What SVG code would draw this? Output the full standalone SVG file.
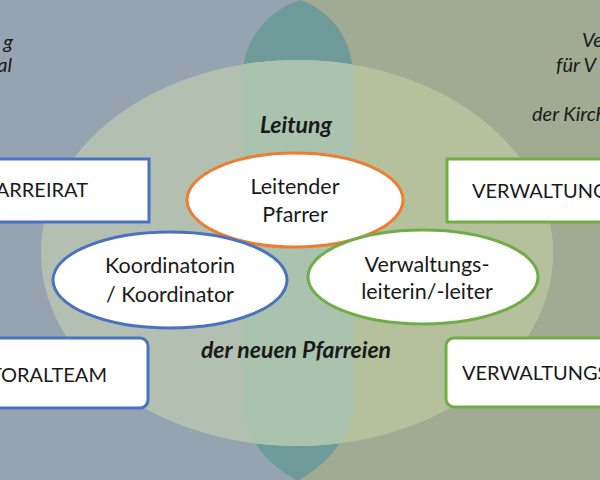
<svg xmlns="http://www.w3.org/2000/svg" width="600" height="480" viewBox="0 0 600 480">
<style>
.t{font-family:Lato,"Open Sans","Liberation Sans",sans-serif;fill:#1a1a1a}
.box{font-size:20px}
.ell{font-size:21.5px;text-anchor:middle}
.hd{font-size:23px;font-style:italic;font-weight:bold;text-anchor:middle}
.side{font-size:20px;font-style:italic}
.nb{fill:#fff;stroke:#4a72c0;stroke-width:3}
.ng{fill:#fff;stroke:#70ad47;stroke-width:3}
</style>
<defs>
<path id="blueShape" d="M-10,-10 L270,-10 C290,-6 296,-3 300,0 C325,8 350,32 353,70 L354,400 C353,430 335,460 296,482 L-10,490 Z"/>
<path id="greenShape" d="M610,-10 L330,-10 C312,-6 304,-3 300,0 C275,8 246,32 243,70 L242,400 C243,430 258,460 300,482 L610,490 Z"/>
<ellipse id="bigEll" cx="297" cy="253" rx="256" ry="193"/>
<clipPath id="cpGreen"><use href="#greenShape"/></clipPath>
<clipPath id="cpEll"><use href="#bigEll"/></clipPath>
</defs>
<g id="background">
<rect width="600" height="480" fill="#ffffff"/>
<use href="#blueShape" fill="#96a4b2"/>
<use href="#greenShape" fill="#a1aa92"/>
<use href="#blueShape" fill="#6e9b9a" clip-path="url(#cpGreen)"/>
<use href="#bigEll" fill="#b3bfb0"/>
<g clip-path="url(#cpEll)">
<use href="#greenShape" fill="#b5c09c"/>
<use href="#blueShape" fill="#a9c3ae" clip-path="url(#cpGreen)"/>
</g>
</g>
<g id="side-texts">
<text class="t side" x="13" y="49" text-anchor="end">g</text>
<text class="t side" x="12" y="72" text-anchor="end">al</text>
<text class="t side" x="582" y="47">Ve</text>
<text class="t side" x="556" y="72">für V</text>
<text class="t side" x="532" y="121">der Kirch</text>
</g>
<g id="labels">
<text class="t hd" x="296" y="133">Leitung</text>
<text class="t hd" x="296" y="358">der neuen Pfarreien</text>
</g>
<g id="connectors"></g>
<g id="pfarreirat">
<rect class="nb" x="-10" y="159" width="159" height="63"/>
<text class="t box" x="88" y="197" text-anchor="end">ARREIRAT</text>
</g>
<g id="pastoralteam">
<rect class="nb" x="-10" y="338" width="158" height="70" rx="8"/>
<text class="t box" x="107" y="382" text-anchor="end">TORALTEAM</text>
</g>
<g id="verwaltungsrat">
<rect class="ng" x="447" y="159" width="170" height="63"/>
<text class="t box" x="472" y="198">VERWALTUNG</text>
</g>
<g id="verwaltungsausschuss">
<rect class="ng" x="446" y="338" width="170" height="69" rx="8"/>
<text class="t box" x="462" y="380">VERWALTUNGS</text>
</g>
<g id="leitender-pfarrer">
<ellipse cx="295" cy="200" rx="108" ry="47" fill="#fff" stroke="#ed7d31" stroke-width="3"/>
<text class="t ell" x="295" y="194">Leitender</text>
<text class="t ell" x="295" y="222">Pfarrer</text>
</g>
<g id="koordinator">
<ellipse cx="170" cy="280" rx="117" ry="48" fill="#fff" stroke="#4a72c0" stroke-width="3"/>
<text class="t ell" x="170" y="273">Koordinatorin</text>
<text class="t ell" x="170" y="302">/ Koordinator</text>
</g>
<g id="verwaltungsleiter">
<ellipse cx="423" cy="277" rx="115" ry="47" fill="#fff" stroke="#70ad47" stroke-width="3"/>
<text class="t ell" x="427" y="272">Verwaltungs-</text>
<text class="t ell" x="427" y="299">leiterin/-leiter</text>
</g>
</svg>
